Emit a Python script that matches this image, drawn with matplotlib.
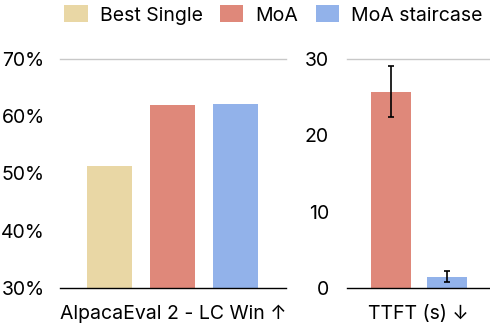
import matplotlib
matplotlib.use('Agg')
import matplotlib.pyplot as plt
from matplotlib.patches import Patch

plt.rcParams['font.family'] = ['Inter', 'DejaVu Sans']

methods = ['Best Single', 'MoA', 'MoA staircase']
colors = ['#E9D7A5', '#DF887A', '#92B2EA']

# AlpacaEval 2 LC win rate (%)
lc_win = [51.3, 62.0, 62.1]

# time to first token (s), MoA and MoA staircase only
ttft = [25.7, 1.45]
ttft_lo = [22.4, 0.8]
ttft_hi = [29.1, 2.2]

W, H = 490, 326
fig = plt.figure(figsize=(W / 100, H / 100), dpi=100)


def px_axes(x0, x1, y_top, y_bot):
    return fig.add_axes([x0 / W, (H - y_bot) / H, (x1 - x0) / W, (y_bot - y_top) / H])


def style(ax):
    for s in ['top', 'right', 'left']:
        ax.spines[s].set_visible(False)
    ax.spines['bottom'].set_linewidth(1.0)
    ax.tick_params(axis='both', length=0, labelsize=14, pad=11)
    ax.set_xticks([])


# left panel
ax1 = px_axes(60, 286, 59, 288)
ax1.bar(range(3), lc_win, width=0.714, color=colors, zorder=2)
ax1.set_xlim(-0.786, 2.80)
ax1.set_ylim(30, 70)
ax1.set_yticks([30, 40, 50, 60, 70])
ax1.set_yticklabels([f'{v}%' for v in [30, 40, 50, 60, 70]])
ax1.axhline(70, color='#c8c8c8', lw=1.0, clip_on=False)
style(ax1)
ax1.set_xlabel('AlpacaEval 2 - LC Win \u2191', fontsize=14, labelpad=12)

# right panel
ax2 = px_axes(347, 490, 59, 288)
err = [[v - lo for v, lo in zip(ttft, ttft_lo)], [hi - v for v, hi in zip(ttft, ttft_hi)]]
ax2.bar(range(2), ttft, width=0.714, color=colors[1:], zorder=2)
ax2.errorbar(range(2), ttft, yerr=err, fmt='none', ecolor='black', elinewidth=1.2,
             capsize=2.5, capthick=1.2, zorder=3)
ax2.set_xlim(-0.786, 1.77)
ax2.set_ylim(0, 30)
ax2.set_yticks([0, 10, 20, 30])
ax2.axhline(30, color='#c8c8c8', lw=1.0, clip_on=False)
style(ax2)
ax2.tick_params(axis='y', pad=13)
ax2.set_xlabel('TTFT (s) \u2193', fontsize=14, labelpad=12)

handles = [Patch(facecolor=c, edgecolor='none') for c in colors]
fig.legend(handles, methods, loc='upper center', bbox_to_anchor=(0.558, 1.025), ncol=3,
           frameon=False, fontsize=14, handlelength=1.2, handleheight=0.95,
           handletextpad=0.62, columnspacing=0.9, borderaxespad=0.3)

fig.savefig('out.png', dpi=100)
